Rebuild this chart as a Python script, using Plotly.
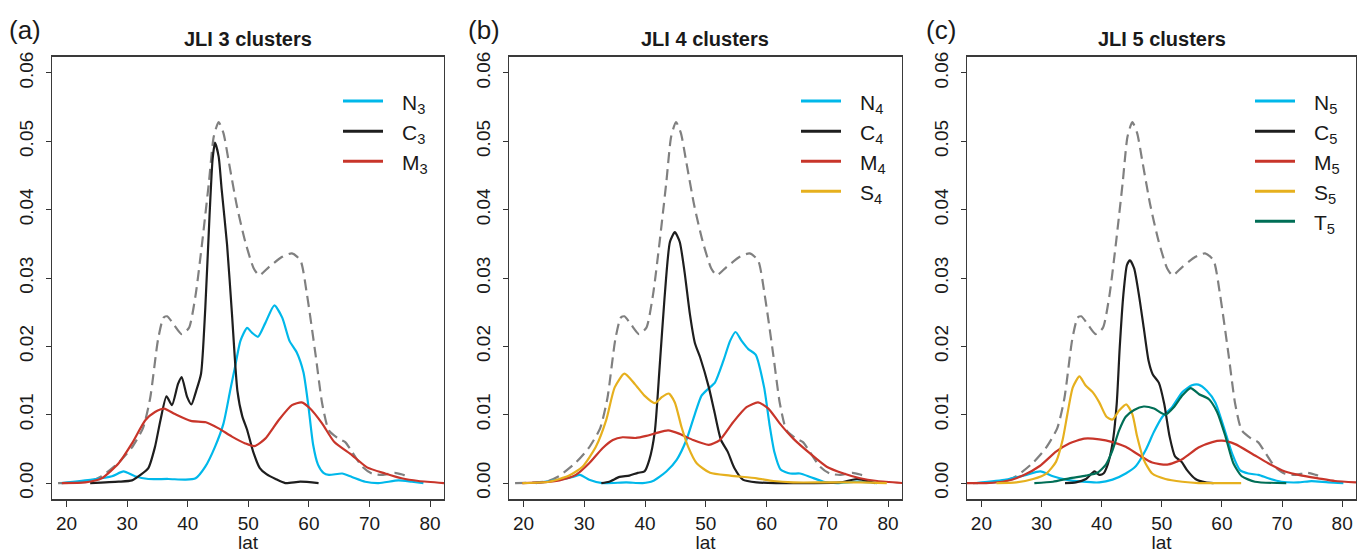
import plotly.graph_objects as go

# ---- shared total density (dashed grey) ----
total_lat = [18.6, 22.0, 24.0, 25.8, 28.6, 30.7, 32.6, 33.8, 35.1, 36.0, 36.6, 37.7, 39.0, 40.2,
             41.3, 42.4, 43.5, 44.3, 45.1, 45.9, 46.8, 48.1, 49.5, 50.9, 51.8, 53.4, 55.6, 57.2,
             58.6, 59.7, 61.1, 62.2, 63.3, 64.9, 66.0, 67.1, 68.8, 70.4, 72.1, 74.2, 75.6, 76.0]
total_val = [0.0, 0.0001, 0.0003, 0.001, 0.003, 0.0051, 0.008, 0.0124, 0.021, 0.0242, 0.0244, 0.0232,
             0.0218, 0.0227, 0.0275, 0.0353, 0.044, 0.0507, 0.0528, 0.0512, 0.0469, 0.0406, 0.0353,
             0.0314, 0.0304, 0.0316, 0.0331, 0.0336, 0.0326, 0.0275, 0.0188, 0.0116, 0.0077, 0.0065,
             0.006, 0.0046, 0.0024, 0.0014, 0.0012, 0.0015, 0.0012, 0.0011]

# ---- JLI 3 clusters ----
n3_lat = [19.2, 24.2, 27.5, 29.4, 31.3, 33.5, 36.8, 39.6, 41.3, 42.9, 44.5, 45.9, 47.0, 47.9, 48.7,
          49.8, 50.6, 51.6, 52.8, 54.3, 55.6, 56.8, 58.0, 59.1, 59.9, 60.7, 61.5, 62.4, 63.3, 65.5,
          67.1, 69.3, 71.5, 74.8, 77.0, 78.9]
n3_val = [0.0, 0.0005, 0.001, 0.0017, 0.001, 0.0006, 0.0006, 0.0005, 0.0007, 0.0024, 0.0053, 0.0087,
          0.0135, 0.0174, 0.0208, 0.0227, 0.022, 0.0214, 0.0234, 0.026, 0.0242, 0.0208, 0.0191, 0.0162,
          0.0114, 0.0056, 0.0027, 0.0015, 0.0012, 0.0014, 0.0009, 0.0002, 0.0, 0.0004, 0.0002, 0.0]
c3_lat = [23.9, 28.6, 30.8, 32.2, 33.5, 34.6, 35.5, 36.5, 37.4, 38.4, 39.0, 39.9, 40.6, 41.4, 42.2,
          42.9, 43.6, 44.1, 44.5, 45.1, 45.6, 46.5, 47.3, 48.2, 49.0, 49.8, 50.8, 51.9, 53.0, 54.5,
          56.1, 58.6, 61.6]
c3_val = [0.0, 0.0002, 0.0004, 0.0012, 0.0022, 0.0053, 0.0092, 0.0127, 0.0114, 0.0145, 0.0155, 0.0126,
          0.0115, 0.0135, 0.016, 0.0256, 0.0391, 0.0473, 0.0498, 0.0478, 0.043, 0.0348, 0.0248, 0.0135,
          0.0098, 0.0078, 0.0046, 0.0022, 0.0013, 0.0006, 0.0, 0.0002, 0.0]
m3_lat = [19.2, 23.1, 25.8, 28.6, 30.8, 33.0, 34.6, 36.1, 37.9, 40.5, 43.0, 45.1, 47.3, 49.5, 51.0,
          52.8, 55.0, 57.2, 58.8, 60.2, 62.2, 64.2, 67.1, 69.6, 72.6, 75.3, 78.1, 82.3]
m3_val = [0.0, 0.0001, 0.0007, 0.0029, 0.0058, 0.0092, 0.0104, 0.0109, 0.0101, 0.0091, 0.0089, 0.008,
          0.0068, 0.0058, 0.0054, 0.0065, 0.0092, 0.0114, 0.0118, 0.0109, 0.0087, 0.006, 0.0041, 0.0023,
          0.0014, 0.0007, 0.0003, 0.0]

# ---- JLI 4 clusters ----
n4_lat = [22.0, 25.9, 28.1, 29.3, 30.8, 33.0, 36.9, 39.6, 41.3, 43.5, 45.2, 46.8, 48.2, 49.3, 50.4,
          51.5, 52.9, 54.0, 54.9, 55.9, 57.0, 58.2, 59.6, 60.5, 61.3, 62.3, 63.9, 65.5, 67.2, 69.4,
          71.6, 74.9, 77.1, 78.2]
n4_val = [0.0, 0.0005, 0.0009, 0.0012, 0.0005, 0.0, 0.0001, 0.0, 0.0003, 0.0017, 0.0034, 0.0063,
          0.0101, 0.0128, 0.0138, 0.0147, 0.0179, 0.0208, 0.0221, 0.0208, 0.0196, 0.0188, 0.014, 0.0085,
          0.0045, 0.002, 0.0014, 0.0014, 0.0009, 0.0002, 0.0, 0.0002, 0.0001, 0.0]
c4_lat = [32.8, 34.1, 35.8, 37.4, 38.8, 39.9, 40.7, 41.6, 42.4, 43.2, 44.1, 44.9, 45.7, 46.5, 47.4,
          48.2, 49.1, 50.5, 51.4, 52.5, 53.6, 54.7, 56.1, 58.4, 61.7, 67.2, 72.1, 74.9, 76.5, 77.9]
c4_val = [0.0, 0.0002, 0.0009, 0.0011, 0.0015, 0.0017, 0.0034, 0.0075, 0.017, 0.027, 0.0353, 0.0367,
          0.0353, 0.0309, 0.0246, 0.0205, 0.0183, 0.014, 0.0105, 0.0063, 0.0046, 0.0022, 0.0005, 0.0001,
          0.0, 0.0, 0.0001, 0.0006, 0.0003, 0.0]
m4_lat = [19.8, 23.1, 25.9, 28.6, 30.8, 33.0, 34.7, 36.3, 38.5, 40.2, 41.8, 43.8, 45.7, 47.9, 50.5,
          52.3, 54.5, 56.7, 58.6, 60.3, 62.2, 64.4, 67.2, 69.9, 72.7, 75.4, 78.2, 82.5]
m4_val = [0.0, 0.0001, 0.0004, 0.0012, 0.0029, 0.0051, 0.0063, 0.0067, 0.0066, 0.0069, 0.0073, 0.0077,
          0.0072, 0.0063, 0.0056, 0.0063, 0.0089, 0.0111, 0.0118, 0.0109, 0.0087, 0.0065, 0.0043, 0.0024,
          0.0014, 0.0007, 0.0003, 0.0]
s4_lat = [19.8, 24.2, 27.5, 29.7, 31.9, 33.6, 35.0, 36.6, 38.3, 39.9, 41.6, 42.8, 43.9, 44.9, 46.0,
          47.1, 48.5, 50.7, 54.0, 58.4, 61.1, 64.4, 69.9, 75.4, 79.8]
s4_val = [0.0, 0.0002, 0.0011, 0.0024, 0.0053, 0.0092, 0.014, 0.016, 0.0145, 0.0128, 0.0117, 0.0126,
          0.0131, 0.0118, 0.0082, 0.0053, 0.0029, 0.0015, 0.0011, 0.0007, 0.0003, 0.0001, 0.0001,
          0.0001, 0.0]

# ---- JLI 5 clusters ----
n5_lat = [19.2, 24.1, 27.5, 29.8, 31.9, 34.1, 36.8, 39.6, 41.8, 44.0, 45.7, 47.3, 48.7, 50.1, 51.7,
          53.4, 55.0, 56.1, 57.5, 58.9, 60.3, 61.7, 63.0, 64.4, 66.1, 67.7, 69.9, 72.7, 74.9, 77.7, 80.2]
n5_val = [0.0, 0.0005, 0.0012, 0.0017, 0.001, 0.0005, 0.0002, 0.0001, 0.0005, 0.0014, 0.0025, 0.0048,
          0.0075, 0.0097, 0.0111, 0.0133, 0.0143, 0.0144, 0.0135, 0.0118, 0.0082, 0.0043, 0.0019,
          0.0014, 0.0012, 0.0007, 0.0002, 0.0001, 0.0003, 0.0001, 0.0]
c5_lat = [33.9, 35.7, 37.4, 38.8, 39.6, 40.3, 41.0, 41.8, 42.5, 43.0, 43.6, 44.2, 44.7, 45.4, 46.2,
          47.0, 47.8, 48.5, 49.5, 50.4, 51.3, 52.2, 53.3, 54.2, 55.6, 57.3, 58.6]
c5_val = [0.0, 0.0001, 0.0006, 0.0017, 0.0012, 0.0014, 0.0027, 0.0058, 0.0116, 0.0198, 0.0275, 0.0319,
          0.0326, 0.0314, 0.0275, 0.0227, 0.0179, 0.0159, 0.0147, 0.0116, 0.0068, 0.0039, 0.0031,
          0.0019, 0.0006, 0.0001, 0.0]
m5_lat = [17.6, 20.8, 24.1, 26.9, 29.7, 32.4, 34.6, 37.1, 39.6, 41.8, 44.0, 46.2, 48.4, 50.9, 53.4,
          56.1, 58.4, 60.0, 62.2, 65.0, 67.7, 70.5, 73.3, 76.0, 78.8, 82.3]
m5_val = [0.0, 0.0, 0.0003, 0.0011, 0.0025, 0.0046, 0.0058, 0.0065, 0.0064, 0.006, 0.0053, 0.0041,
          0.003, 0.0027, 0.0035, 0.0052, 0.006, 0.0062, 0.0057, 0.0043, 0.0029, 0.0017, 0.0011, 0.0007,
          0.0003, 0.0001]
s5_lat = [22.5, 25.8, 28.6, 30.8, 32.4, 33.5, 34.3, 35.2, 36.3, 37.3, 38.5, 39.6, 40.8, 41.8, 42.9,
          44.1, 45.1, 45.9, 47.0, 48.4, 50.6, 53.4, 56.1, 63.2]
s5_val = [0.0, 0.0001, 0.0006, 0.0014, 0.0031, 0.0063, 0.0101, 0.014, 0.0156, 0.0143, 0.0133, 0.0118,
          0.0097, 0.0093, 0.0106, 0.0115, 0.0101, 0.0068, 0.0034, 0.0014, 0.0006, 0.0002, 0.0, 0.0]
t5_lat = [28.8, 31.9, 34.6, 37.4, 39.3, 40.7, 41.8, 42.9, 44.0, 45.4, 47.0, 48.7, 50.6, 52.0, 53.4,
          54.8, 56.2, 57.8, 59.2, 60.6, 61.9, 63.3, 65.5, 70.7]
t5_val = [0.0, 0.0002, 0.0007, 0.0011, 0.0015, 0.0027, 0.0048, 0.0077, 0.0097, 0.0107, 0.0112, 0.0109,
          0.01, 0.0111, 0.0128, 0.0139, 0.013, 0.0123, 0.0104, 0.0068, 0.0029, 0.001, 0.0002, 0.0]

panel_titles = ["JLI 3 clusters", "JLI 4 clusters", "JLI 5 clusters"]
panel_tags = ["(a)", "(b)", "(c)"]
x_ticks = [20, 30, 40, 50, 60, 70, 80]
y_ticks = [0.0, 0.01, 0.02, 0.03, 0.04, 0.05, 0.06]
y_ticklabels = ["0.00", "0.01", "0.02", "0.03", "0.04", "0.05", "0.06"]

COL = {"N": "#00b8ea", "C": "#1e1e1e", "M": "#c8352a", "S": "#e6b01e", "T": "#006e56"}
GREY = "#808080"
FONT = "Liberation Sans, Arial, Helvetica, sans-serif"

panels = [
    [("N", 3, n3_lat, n3_val), ("C", 3, c3_lat, c3_val), ("M", 3, m3_lat, m3_val)],
    [("N", 4, n4_lat, n4_val), ("C", 4, c4_lat, c4_val), ("M", 4, m4_lat, m4_val),
     ("S", 4, s4_lat, s4_val)],
    [("N", 5, n5_lat, n5_val), ("C", 5, c5_lat, c5_val), ("M", 5, m5_lat, m5_val),
     ("S", 5, s5_lat, s5_val), ("T", 5, t5_lat, t5_val)],
]

W, H = 1357, 553
x_px = [(52, 444), (509, 902), (967, 1356)]
y_px = (52, 499)
ydom = [1 - y_px[1] / H, 1 - y_px[0] / H]

fig = go.Figure()
layout = dict(width=W, height=H, margin=dict(l=0, r=0, t=0, b=0),
              paper_bgcolor="white", plot_bgcolor="white", showlegend=False,
              font=dict(family=FONT, color="#1a1a1a", size=19))
annotations = []
shapes = []

for i, series in enumerate(panels):
    k = "" if i == 0 else str(i + 1)
    xa, ya = "x" + k, "y" + k
    # total density, dashed
    fig.add_trace(go.Scatter(x=total_lat, y=total_val, mode="lines", xaxis=xa, yaxis=ya,
                             line=dict(color=GREY, width=2.2, dash="11px,6px",
                                       shape="spline", smoothing=0.6),
                             hoverinfo="skip"))
    for key, n, lat, val in series:
        fig.add_trace(go.Scatter(x=lat, y=val, mode="lines", xaxis=xa, yaxis=ya,
                                 line=dict(color=COL[key], width=2.2, shape="spline", smoothing=0.6),
                                 name=f"{key}{n}"))
    xd = [x_px[i][0] / W, x_px[i][1] / W]
    layout["xaxis" + k] = dict(domain=xd, anchor=ya, range=[17.6, 82.3], tickvals=x_ticks,
                               ticks="outside", ticklen=6, tickcolor="#333", tickwidth=1,
                               showline=True, linecolor="#3a3a3a", linewidth=1.5, mirror=True,
                               showgrid=False, zeroline=False,
                               tickfont=dict(size=19), title=dict(text="lat", font=dict(size=19),
                                                                   standoff=4))
    layout["yaxis" + k] = dict(domain=ydom, anchor=xa, range=[-0.0024, 0.0624], tickvals=y_ticks,
                               ticktext=y_ticklabels, tickangle=-90,
                               ticks="outside", ticklen=5, tickcolor="#333", tickwidth=1,
                               showline=True, linecolor="#3a3a3a", linewidth=1.2, mirror=True,
                               showgrid=False, zeroline=False, tickfont=dict(size=19),
                               ticklabelstandoff=5)
    cx = (x_px[i][0] + x_px[i][1]) / 2 / W
    annotations.append(dict(text=f"<b>{panel_titles[i]}</b>", x=cx, y=1 - 34 / H, xref="paper",
                            yref="paper", xanchor="center", yanchor="middle", showarrow=False,
                            font=dict(size=20)))
    tag_x = [7, 466, 924][i]
    annotations.append(dict(text=panel_tags[i], x=tag_x / W, y=1 - 25 / H, xref="paper",
                            yref="paper", xanchor="left", yanchor="middle", showarrow=False,
                            font=dict(size=26)))
    # legend key
    right = x_px[i][1]
    for j, (key, n, lat, val) in enumerate(series):
        yy = 97 + j * 30.3
        shapes.append(dict(type="line", xref="paper", yref="paper",
                           x0=(right - 101) / W, x1=(right - 61) / W,
                           y0=1 - yy / H, y1=1 - yy / H,
                           line=dict(color=COL[key], width=3)))
        annotations.append(dict(text=f"{key}<sub>{n}</sub>", x=(right - 44) / W, y=1 - yy / H,
                                xref="paper", yref="paper", xanchor="left", yanchor="middle",
                                yshift=-3, showarrow=False, font=dict(size=21)))

layout["annotations"] = annotations
layout["shapes"] = shapes
fig.update_layout(**layout)
fig.write_html("out.html")
